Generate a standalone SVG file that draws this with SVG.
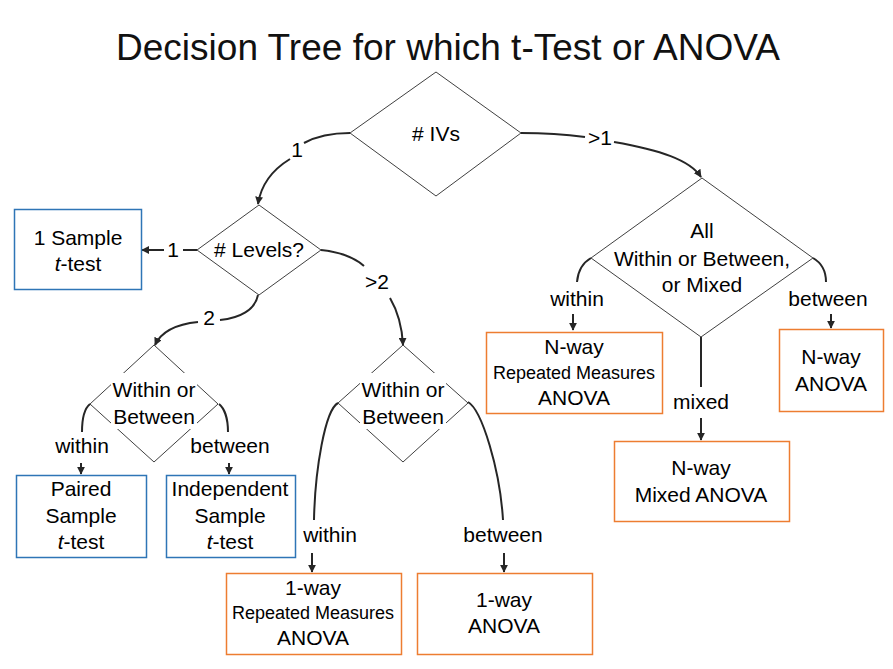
<svg xmlns="http://www.w3.org/2000/svg" width="893" height="669" viewBox="0 0 893 669">
<defs>
<marker id="arr" viewBox="0 0 10 10" refX="9" refY="5" markerWidth="4" markerHeight="4" orient="auto" markerUnits="strokeWidth">
<path d="M0,0 L10,5 L0,10 z" fill="#262626"/>
</marker>
<style>
text{font-family:"Liberation Sans",Arial,sans-serif;font-size:21px;fill:#000;text-anchor:middle}
.title{font-size:36px;fill:#111}
.sm{font-size:18px}
.dia{fill:#fff;stroke:#404040;stroke-width:1}
.blue{fill:#fff;stroke:#2E75B6;stroke-width:1.5}
.orange{fill:#fff;stroke:#ED7D31;stroke-width:1.5}
.con{fill:none;stroke:#262626;stroke-width:2}
.arw{marker-end:url(#arr)}
.mask{fill:#fff}
</style>
</defs>
<rect width="893" height="669" fill="#fff"/>
<text class="title" x="448" y="60" textLength="664" lengthAdjust="spacingAndGlyphs">Decision Tree for which t-Test or ANOVA</text>

<g id="connectors">
<path class="con" d="M350,133 C330,133 315,137 304,143"/>
<path class="con arw" d="M290,159 C272,170 261,185 258,204"/>
<path class="con" d="M521,133 C550,133 570,135 585,137"/>
<path class="con arw" d="M614,142 C660,150 690,160 701,177"/>
<path class="con" d="M197,250 L183,250"/>
<path class="con arw" d="M164,250 L142,250"/>
<path class="con" d="M321,250 C340,252 355,258 364,266"/>
<path class="con arw" d="M390,298 C397,310 402,325 403,345"/>
<path class="con" d="M258,295 C255,310 240,318 220,320"/>
<path class="con arw" d="M198,322 C178,324 162,330 155,345"/>
<path class="con" d="M90,404 C85,408 82,418 82,432"/>
<path class="con arw" d="M81,463 L81,474"/>
<path class="con" d="M219,404 C224,408 228,418 228,432"/>
<path class="con arw" d="M229,463 L229,474"/>
<path class="con" d="M338,403 C325,410 315,470 314,520"/>
<path class="con arw" d="M312,553 L312,572"/>
<path class="con" d="M468,402 C482,410 500,470 503,520"/>
<path class="con arw" d="M504,553 L504,572"/>
<path class="con" d="M591,258 C584,262 578,270 577,282"/>
<path class="con arw" d="M573,314 L573,330"/>
<path class="con" d="M813,258 C820,262 826,270 826,282"/>
<path class="con arw" d="M831,314 L831,328"/>
<path class="con" d="M701,337 L701,387"/>
<path class="con arw" d="M701,418 L701,440"/>
</g>

<g id="labels">
<text x="297" y="157">1</text>
<text x="600" y="145">&gt;1</text>
<text x="173" y="257">1</text>
<text x="377" y="289">&gt;2</text>
<text x="209" y="325">2</text>
<text x="82" y="453">within</text>
<text x="230" y="453">between</text>
<text x="330" y="542">within</text>
<text x="503" y="542">between</text>
<text x="577" y="306">within</text>
<text x="828" y="306">between</text>
<text x="701" y="409">mixed</text>
</g>

<g id="ivs">
<polygon class="dia" points="436,72 521,133 436,196 350,133"/>
<text x="436" y="141"># IVs</text>
</g>

<g id="levels">
<polygon class="dia" points="259,205 321,250 259,295 197,250"/>
<text x="259" y="257"># Levels?</text>
</g>

<g id="wb-left">
<polygon class="dia" points="154,345 218,404 154,462 90,404"/>
<rect class="mask" x="111" y="373" width="86" height="56"/>
<text x="154" y="397">Within or</text>
<text x="154" y="424">Between</text>
</g>

<g id="wb-right">
<polygon class="dia" points="403,345 468,403 403,462 338,403"/>
<rect class="mask" x="360" y="373" width="86" height="56"/>
<text x="403" y="397">Within or</text>
<text x="403" y="424">Between</text>
</g>

<g id="all">
<polygon class="dia" points="702,178 813,258 701,337 591,258"/>
<text x="702" y="238">All</text>
<text x="702" y="266">Within or Between,</text>
<text x="702" y="292">or Mixed</text>
</g>

<g id="one-sample">
<rect class="blue" x="14.5" y="209.5" width="127" height="80"/>
<text x="78" y="245">1 Sample</text>
<text x="78" y="271"><tspan font-style="italic">t</tspan>-test</text>
</g>

<g id="paired">
<rect class="blue" x="16.5" y="475.5" width="130" height="82"/>
<text x="81" y="496">Paired</text>
<text x="81" y="523">Sample</text>
<text x="81" y="549"><tspan font-style="italic">t</tspan>-test</text>
</g>

<g id="independent">
<rect class="blue" x="166.5" y="475.5" width="129" height="82"/>
<text x="230" y="496">Independent</text>
<text x="230" y="523">Sample</text>
<text x="230" y="549"><tspan font-style="italic">t</tspan>-test</text>
</g>

<g id="oneway-rm">
<rect class="orange" x="226.5" y="573.5" width="175" height="81"/>
<text x="313" y="595">1-way</text>
<text class="sm" x="313" y="619">Repeated Measures</text>
<text x="313" y="645">ANOVA</text>
</g>

<g id="oneway-anova">
<rect class="orange" x="417.5" y="573.5" width="175" height="81"/>
<text x="504" y="607">1-way</text>
<text x="504" y="633">ANOVA</text>
</g>

<g id="nway-rm">
<rect class="orange" x="486.5" y="332.5" width="176" height="81"/>
<text x="574" y="354">N-way</text>
<text class="sm" x="574" y="379">Repeated Measures</text>
<text x="574" y="405">ANOVA</text>
</g>

<g id="nway-anova">
<rect class="orange" x="779.5" y="329.5" width="104" height="82"/>
<text x="831" y="364">N-way</text>
<text x="831" y="391">ANOVA</text>
</g>

<g id="nway-mixed">
<rect class="orange" x="614.5" y="441.5" width="175" height="80"/>
<text x="701" y="475">N-way</text>
<text x="701" y="502">Mixed ANOVA</text>
</g>
</svg>
